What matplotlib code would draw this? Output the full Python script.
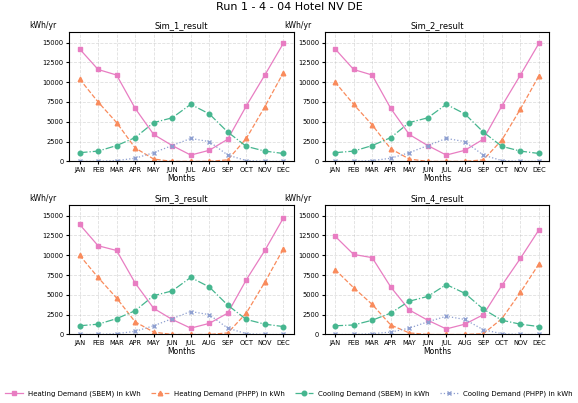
import matplotlib.pyplot as plt

months = ["JAN", "FEB", "MAR", "APR", "MAY", "JUN", "JUL", "AUG", "SEP", "OCT", "NOV", "DEC"]
titles = ["Sim_1_result", "Sim_2_result", "Sim_3_result", "Sim_4_result"]

heat_sbem = [
    [14200, 11600, 10900, 6700, 3400, 2000, 800, 1400, 2800, 7000, 10900, 14900],
    [14200, 11600, 10900, 6700, 3400, 2000, 800, 1400, 2800, 7000, 10900, 14900],
    [13900, 11200, 10600, 6500, 3300, 1900, 800, 1400, 2700, 6900, 10600, 14700],
    [12400, 10100, 9700, 6000, 3100, 1800, 700, 1300, 2500, 6200, 9600, 13200],
]
heat_phpp = [
    [10400, 7500, 4900, 1700, 300, 0, 0, 0, 200, 2900, 6900, 11200],
    [10000, 7200, 4600, 1600, 300, 0, 0, 0, 200, 2700, 6600, 10800],
    [10000, 7200, 4600, 1600, 300, 0, 0, 0, 200, 2700, 6600, 10800],
    [8200, 5900, 3800, 1200, 200, 0, 0, 0, 100, 2000, 5300, 8900],
]
cool_sbem = [
    [1100, 1300, 2000, 3000, 4900, 5500, 7200, 6000, 3700, 1900, 1300, 1000],
    [1100, 1300, 2000, 3000, 4900, 5500, 7200, 6000, 3700, 1900, 1300, 1000],
    [1100, 1300, 2000, 3000, 4900, 5500, 7200, 6000, 3700, 1900, 1300, 1000],
    [1100, 1200, 1800, 2700, 4200, 4800, 6300, 5200, 3200, 1800, 1300, 1000],
]
cool_phpp = [
    [0, 0, 100, 400, 1100, 2000, 2900, 2500, 800, 100, 0, 0],
    [0, 0, 100, 400, 1100, 2000, 2900, 2500, 800, 100, 0, 0],
    [0, 0, 100, 400, 1100, 2000, 2900, 2500, 800, 100, 0, 0],
    [0, 0, 100, 300, 800, 1600, 2300, 1900, 600, 100, 0, 0],
]

fig, axes = plt.subplots(2, 2, figsize=(5.78, 4.03), dpi=100)
fig.subplots_adjust(left=0.12, right=0.95, top=0.92, bottom=0.17, wspace=0.14, hspace=0.34)
fig.suptitle("Run 1 - 4 - 04 Hotel NV DE", fontsize=8, y=0.995)

x = range(len(months))
for i, ax in enumerate(axes.flat):
    ax.plot(x, heat_sbem[i], "-s", color="#e87dc2", ms=3.3, lw=0.9, label="Heating Demand (SBEM) in kWh")
    ax.plot(x, heat_phpp[i], "--^", color="#f98b5c", ms=3.3, lw=0.9, label="Heating Demand (PHPP) in kWh")
    ax.plot(x, cool_sbem[i], "-.o", color="#46b68f", ms=3.3, lw=0.9, label="Cooling Demand (SBEM) in kWh")
    ax.plot(x, cool_phpp[i], ":x", color="#8e9fd0", ms=3.3, lw=0.9, label="Cooling Demand (PHPP) in kWh")
    ax.set_title(titles[i], fontsize=6, pad=3)
    ax.set_xticks(list(x))
    ax.set_xticklabels(months)
    ax.set_xlabel("Months", fontsize=5.5, labelpad=1)
    ax.set_ylim(0, 16300)
    ax.set_yticks(range(0, 15001, 2500))
    ax.tick_params(labelsize=4.8, length=2, pad=2)
    ax.grid(True, linestyle="--", alpha=0.4, lw=0.6)
    ax.text(-0.12, 1.03, "kWh/yr", transform=ax.transAxes, fontsize=5.5, ha="center")

handles, labels = axes[0, 0].get_legend_handles_labels()
fig.legend(handles, labels, loc="lower center", ncol=4, fontsize=5, frameon=False,
           bbox_to_anchor=(0.5, 0.0), columnspacing=1.5, handlelength=2.5)

fig.savefig("out.png", dpi=100)
